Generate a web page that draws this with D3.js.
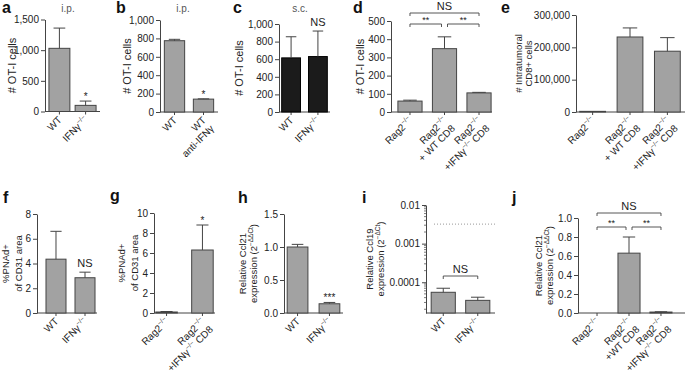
<!DOCTYPE html>
<html>
<head>
<meta charset="utf-8">
<script src="https://cdn.jsdelivr.net/npm/d3@7"></script>
<style>
  body { margin: 0; background: #fff; }
  svg { font-family: "Liberation Sans", Arial, Helvetica, sans-serif; }
</style>
</head>
<body>
<svg id="fig" width="685" height="376"></svg>
<script>
// values (bar = mean, whisker = upper SEM)
// {..} marks a superscript, \n a second line
const aCats = ["WT", "IFNγ{−/−}"];
const aMean = [1030, 100];
const aSem  = [330, 70];
const aTicks = [0, 500, 1000, 1500];

const bCats = ["WT", "WT\nanti-IFNγ"];
const bMean = [775, 140];
const bSem  = [15, 3];
const bTicks = [0, 200, 400, 600, 800, 1000];

const cCats = ["WT", "IFNγ{−/−}"];
const cMean = [615, 630];
const cSem  = [240, 290];
const cTicks = [0, 200, 400, 600, 800, 1000];

const dCats = ["Rag2{−/−}", "Rag2{−/−}\n+ WT CD8", "Rag2{−/−}\n+IFNγ{−/−} CD8"];
const dMean = [60, 348, 105];
const dSem  = [5, 65, 3];
const dTicks = [0, 100, 200, 300, 400, 500];

const eCats = ["Rag2{−/−}", "Rag2{−/−}\n+ WT CD8", "Rag2{−/−}\n+IFNγ{−/−} CD8"];
const eMean = [2000, 232000, 188000];
const eSem  = [0, 28000, 42000];
const eTicks = [0, 100000, 200000, 300000];

const fCats = ["WT", "IFNγ{−/−}"];
const fMean = [4.35, 2.85];
const fSem  = [2.25, 0.45];
const fTicks = [0, 2, 4, 6, 8];

const gCats = ["Rag2{−/−}", "Rag2{−/−}\n+IFNγ{−/−} CD8"];
const gMean = [0.1, 6.3];
const gSem  = [0.05, 2.5];
const gTicks = [0, 2, 4, 6, 8, 10];

const hCats = ["WT", "IFNγ{−/−}"];
const hMean = [1.0, 0.14];
const hSem  = [0.04, 0.02];
const hTicks = [0, 0.5, 1.0, 1.5];

const iCats = ["WT", "IFNγ{−/−}"];
const iMean = [5.5e-5, 3.4e-5];
const iSem  = [1.5e-5, 0.7e-5];
const iTicks = [0.0001, 0.001, 0.01];
const iRefLine = 0.0032;

const jCats = ["Rag2{−/−}", "Rag2{−/−}\n+WT CD8", "Rag2{−/−}\n+IFNγ{−/−} CD8"];
const jMean = [0, 0.63, 0.01];
const jSem  = [0, 0.17, 0.003];
const jTicks = [0, 0.2, 0.4, 0.6, 0.8, 1.0];

const svg = d3.select("#fig");
const ink = "#222", axisCol = "#444", grey = "#a2a2a2";
const comma = d3.format(",");

// write a string with superscripts / line breaks into a text element
function rich(text, str, fs) {
  const lh = fs * 1.15, shift = fs * 0.4;
  let off = 0;
  str.split("\n").forEach((line, li) => {
    line.split(/(\{[^}]*\})/).filter(s => s).forEach((part, k) => {
      const isSup = part[0] === "{";
      const target = isSup ? -shift : 0;
      const t = text.append("tspan")
        .attr("font-size", isSup ? fs * 0.68 : fs)
        .text(isSup ? part.slice(1, -1) : part);
      let dy = target - off;
      if (k === 0) { t.attr("x", 0); if (li > 0) dy += lh; }
      t.attr("dy", dy);
      off = target;
    });
  });
}

function panel(p) {
  const g = svg.append("g");
  const n = p.cats.length;
  const x = d3.scaleBand().domain(d3.range(n)).range(p.band)
              .paddingInner(p.pi).paddingOuter(p.po);
  const y = p.log
    ? d3.scaleLog().domain(p.domain).range([p.yBot, p.yTop])
    : d3.scaleLinear().domain(p.domain).range([p.yBot, p.yTop]);
  const cx = i => x(i) + x.bandwidth() / 2;

  // letter + title
  g.append("text").attr("x", p.letter[1]).attr("y", p.letter[2])
    .attr("font-size", 16).attr("font-weight", "bold").attr("fill", "#111")
    .text(p.letter[0]);
  if (p.title) g.append("text").attr("x", p.title[1]).attr("y", p.title[2])
    .attr("text-anchor", "middle").attr("font-size", 10).attr("fill", "#555")
    .text(p.title[0]);

  // y axis
  const ax = d3.axisLeft(y).tickValues(p.ticks).tickFormat(p.fmt)
               .tickSize(4).tickSizeOuter(0).tickPadding(2);
  const ya = g.append("g").attr("transform", `translate(${p.x0},0)`).call(ax);
  ya.select(".domain").attr("stroke", axisCol);
  ya.selectAll(".tick line").attr("stroke", axisCol);
  ya.selectAll(".tick text").attr("font-size", 10).attr("fill", ink)
    .attr("font-family", null);
  if (p.log) {
    const minor = [];
    [-5, -4, -3].forEach(e => d3.range(2, 10).forEach(k => {
      const v = k * Math.pow(10, e);
      if (v > p.domain[0] && v < p.domain[1]) minor.push(v);
    }));
    g.selectAll(".minor").data(minor).join("line")
      .attr("x1", p.x0 - 2).attr("x2", p.x0)
      .attr("y1", d => y(d)).attr("y2", d => y(d))
      .attr("stroke", axisCol).attr("stroke-width", 0.7);
  }

  // y label (one text per line)
  const ym = (p.yTop + p.yBot) / 2;
  p.ylab.forEach((s, k) => {
    const t = g.append("text").attr("text-anchor", "middle").attr("fill", ink)
      .attr("transform", `translate(${p.ylabX[k]},${ym}) rotate(-90)`);
    rich(t, s, p.ylabSize);
  });

  // x axis line + ticks
  g.append("line").attr("x1", p.x0).attr("x2", p.x1)
    .attr("y1", p.yBot).attr("y2", p.yBot).attr("stroke", axisCol);
  g.selectAll(".xt").data(p.cats).join("line")
    .attr("x1", (d, i) => cx(i)).attr("x2", (d, i) => cx(i))
    .attr("y1", p.yBot).attr("y2", p.yBot + 3).attr("stroke", axisCol);
  p.cats.forEach((c, i) => {
    const t = g.append("text").attr("text-anchor", "end").attr("fill", ink)
      .attr("transform", `translate(${cx(i) + 3},${p.yBot + 9}) rotate(-45)`);
    rich(t, c, 10);
  });

  // bars + upper error whiskers
  const base = p.yBot;
  g.selectAll(".bar").data(p.mean).join("rect")
    .attr("x", (d, i) => x(i)).attr("width", x.bandwidth())
    .attr("y", d => d > 0 ? y(d) : base)
    .attr("height", d => d > 0 ? base - y(d) : 0)
    .attr("fill", p.fill).attr("stroke", p.edge).attr("stroke-width", 1);
  const cap = x.bandwidth() * 0.28;
  p.mean.forEach((m, i) => {
    if (!p.sem[i]) return;
    const y0 = y(m), y1 = y(m + p.sem[i]);
    g.append("line").attr("x1", cx(i)).attr("x2", cx(i))
      .attr("y1", y0).attr("y2", y1).attr("stroke", axisCol);
    g.append("line").attr("x1", cx(i) - cap).attr("x2", cx(i) + cap)
      .attr("y1", y1).attr("y2", y1).attr("stroke", axisCol);
  });

  // significance marks above a bar
  (p.marks || []).forEach(mk => {
    const top = y(p.mean[mk.i] + p.sem[mk.i]);
    const star = mk.text.includes("*");
    g.append("text").attr("x", cx(mk.i)).attr("y", star ? top - 1 : top - 5)
      .attr("text-anchor", "middle").attr("fill", ink)
      .attr("font-size", star ? 10 : 11).text(mk.text);
  });

  // brackets between bars
  (p.brackets || []).forEach(b => {
    const xa = cx(b.a) + (b.da || 0), xb = cx(b.b) + (b.db || 0);
    g.append("path")
      .attr("d", `M${xa},${b.y + 3}V${b.y}H${xb}V${b.y + 3}`)
      .attr("fill", "none").attr("stroke", axisCol).attr("stroke-width", 0.9);
    const star = b.text.includes("*");
    g.append("text").attr("x", (xa + xb) / 2).attr("y", star ? b.y - 1 : b.y - 3)
      .attr("text-anchor", "middle").attr("fill", ink)
      .attr("font-size", star ? 9 : 11).text(b.text);
  });

  if (p.refLine) {
    g.append("line").attr("x1", p.refLine[1]).attr("x2", p.refLine[2])
      .attr("y1", y(p.refLine[0])).attr("y2", y(p.refLine[0]))
      .attr("stroke", "#999").attr("stroke-dasharray", "1,2");
  }
}

// ---- top row ----
panel({ letter: ["a", 2, 13], title: ["i.p.", 68, 12],
  cats: aCats, mean: aMean, sem: aSem, ticks: aTicks, fmt: comma,
  x0: 45, x1: 100, band: [45, 100], pi: 0.2, po: 0.15,
  domain: [0, 1500], yTop: 19.5, yBot: 111.5,
  fill: grey, edge: "#444",
  ylab: ["# OT-I cells"], ylabX: [16], ylabSize: 11,
  marks: [{ i: 1, text: "*" }] });

panel({ letter: ["b", 116, 13], title: ["i.p.", 183, 12],
  cats: bCats, mean: bMean, sem: bSem, ticks: bTicks, fmt: comma,
  x0: 160, x1: 218, band: [160, 218], pi: 0.3, po: 0.15,
  domain: [0, 1000], yTop: 20, yBot: 112,
  fill: grey, edge: "#444",
  ylab: ["# OT-I cells"], ylabX: [131], ylabSize: 11,
  marks: [{ i: 1, text: "*" }] });

panel({ letter: ["c", 233, 13], title: ["s.c.", 300, 12],
  cats: cCats, mean: cMean, sem: cSem, ticks: cTicks, fmt: comma,
  x0: 279, x1: 330, band: [279, 330], pi: 0.3, po: 0.1,
  domain: [0, 1000], yTop: 24, yBot: 112,
  fill: "#1b1b1b", edge: "#000",
  ylab: ["# OT-I cells"], ylabX: [243], ylabSize: 11,
  marks: [{ i: 1, text: "NS" }] });

panel({ letter: ["d", 353, 13],
  cats: dCats, mean: dMean, sem: dSem, ticks: dTicks, fmt: comma,
  x0: 391, x1: 492, band: [391, 498], pi: 0.3, po: 0.2,
  domain: [0, 500], yTop: 21, yBot: 112,
  fill: grey, edge: "#444",
  ylab: ["# OT-I cells"], ylabX: [364], ylabSize: 11,
  brackets: [{ a: 0, b: 2, y: 13, text: "NS" },
             { a: 0, b: 1, db: -3, y: 24, text: "**" },
             { a: 1, b: 2, da: 3, y: 24, text: "**" }] });

panel({ letter: ["e", 501, 13],
  cats: eCats, mean: eMean, sem: eSem, ticks: eTicks, fmt: comma,
  x0: 576, x1: 685, band: [576, 684], pi: 0.31, po: 0.1,
  domain: [0, 300000], yTop: 15, yBot: 112,
  fill: grey, edge: "#444",
  ylab: ["# Intratumoral", "CD8+ cells"], ylabX: [522, 532], ylabSize: 9.5 });

// ---- bottom row ----
panel({ letter: ["f", 3, 203],
  cats: fCats, mean: fMean, sem: fSem, ticks: fTicks, fmt: d3.format("d"),
  x0: 37, x1: 97, band: [37, 104], pi: 0.31, po: 0.31,
  domain: [0, 8], yTop: 214, yBot: 313,
  fill: grey, edge: "#444",
  ylab: ["%PNAd+", "of CD31 area"], ylabX: [9, 22], ylabSize: 9.5,
  marks: [{ i: 1, text: "NS" }] });

panel({ letter: ["g", 110, 201],
  cats: gCats, mean: gMean, sem: gSem, ticks: gTicks, fmt: d3.format("d"),
  x0: 154, x1: 215, band: [154, 215], pi: 0.4, po: 0.05,
  domain: [0, 10], yTop: 213, yBot: 313,
  fill: grey, edge: "#444",
  ylab: ["%PNAd+", "of CD31 area"], ylabX: [125, 138], ylabSize: 9.5,
  marks: [{ i: 1, text: "*" }] });

panel({ letter: ["h", 238, 203],
  cats: hCats, mean: hMean, sem: hSem, ticks: hTicks, fmt: d3.format(".1f"),
  x0: 284, x1: 343, band: [284, 343], pi: 0.35, po: 0.1,
  domain: [0, 1.5], yTop: 214, yBot: 313,
  fill: grey, edge: "#444",
  ylab: ["Relative Ccl21", "expression (2{−ΔΔCt})"], ylabX: [246, 257], ylabSize: 9.5,
  marks: [{ i: 1, text: "***" }] });

panel({ letter: ["i", 362, 203],
  cats: iCats, mean: iMean, sem: iSem, ticks: iTicks, fmt: d => String(d), log: true,
  x0: 426, x1: 495, band: [426, 495], pi: 0.3, po: 0.15,
  domain: [1.6e-5, 0.01], yTop: 205, yBot: 313,
  fill: grey, edge: "#444",
  ylab: ["Relative Ccl19", "expression (2{−ΔCt})"], ylabX: [373, 384], ylabSize: 9.5,
  brackets: [{ a: 0, b: 1, y: 276, text: "NS" }],
  refLine: [iRefLine, 434, 496] });

panel({ letter: ["j", 512, 203],
  cats: jCats, mean: jMean, sem: jSem, ticks: jTicks, fmt: d3.format(".1f"),
  x0: 578, x1: 685, band: [578, 680], pi: 0.31, po: 0.25,
  domain: [0, 1], yTop: 218, yBot: 313,
  fill: grey, edge: "#444",
  ylab: ["Relative Ccl21", "expression (2{−ΔΔCt})"], ylabX: [542, 553], ylabSize: 9.5,
  brackets: [{ a: 0, b: 2, y: 213, text: "NS" },
             { a: 0, b: 1, db: -3, y: 227, text: "**" },
             { a: 1, b: 2, da: 3, y: 227, text: "**" }] });
</script>
</body>
</html>
